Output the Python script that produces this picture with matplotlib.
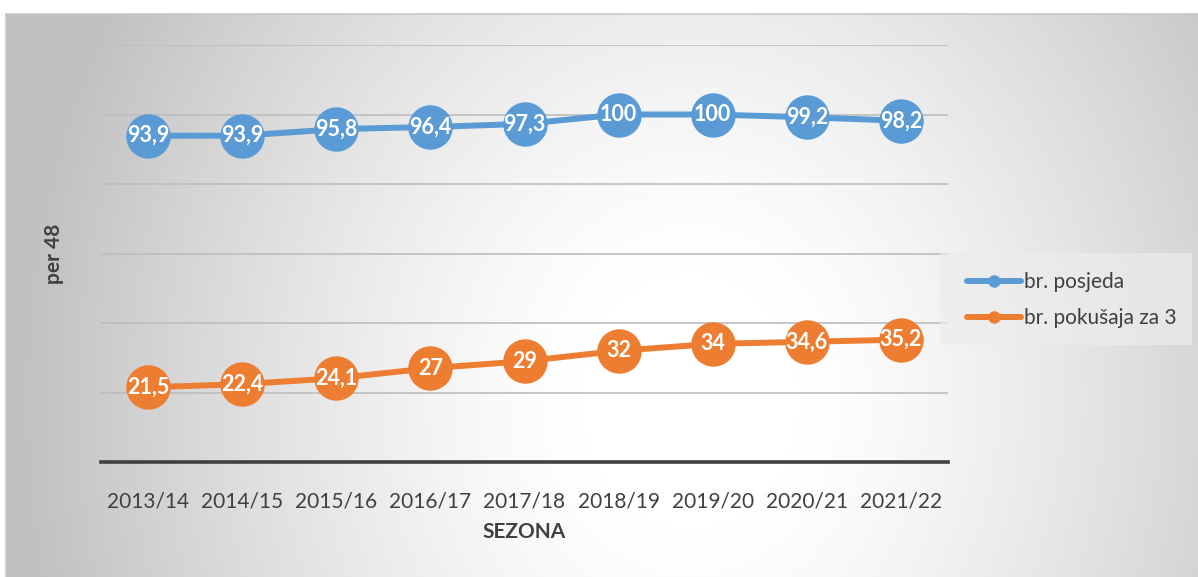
import numpy as np
import matplotlib
matplotlib.use("Agg")
import matplotlib.pyplot as plt
from matplotlib.lines import Line2D
from matplotlib.patches import Rectangle

plt.rcParams['font.family'] = ['Lato', 'DejaVu Sans']

seasons = ["2013/14", "2014/15", "2015/16", "2016/17", "2017/18",
           "2018/19", "2019/20", "2020/21", "2021/22"]
posjedi = [93.9, 93.9, 95.8, 96.4, 97.3, 100, 100, 99.2, 98.2]
pokusaji_3 = [21.5, 22.4, 24.1, 27, 29, 32, 34, 34.6, 35.2]
series_names = ["br. posjeda", "br. pokušaja za 3"]
colors = ["#5B9BD5", "#ED7D31"]

W, H = 1198, 577
fig = plt.figure(figsize=(W / 100, H / 100), dpi=100)

# radial gradient background of the chart area
bg = fig.add_axes([0, 0, 1, 1], zorder=-10)
yy, xx = np.mgrid[0:H, 0:W]
t = np.sqrt(((xx - 690) / 680.0) ** 2 + ((yy - 400) / 800.0) ** 2)
t = np.clip((t - 0.16) / 0.84, 0, 1)
shade = 1 - 0.25 * t ** 1.3
img = np.dstack([shade] * 3)
img[:14, :, :] = 1.0
img[:, :6, :] = 1.0
bg.imshow(img, extent=[0, W, H, 0], aspect='auto', interpolation='bilinear')
bg.plot([6, W], [14, 14], color="#c8c8c8", lw=1.2)
bg.plot([6, 6], [14, H], color="#c8c8c8", lw=1.2)
bg.set_xlim(0, W)
bg.set_ylim(H, 0)
bg.axis('off')

ax = fig.add_axes([101 / W, 1 - 462 / H, 847 / W, 417 / H])
ax.patch.set_alpha(0)
x = np.arange(len(seasons))

for vals, c in zip([posjedi, pokusaji_3], colors):
    ax.plot(x, vals, color=c, lw=4.3, marker='o', markersize=32,
            markeredgewidth=0, solid_capstyle='round', zorder=3)
    for xi, v in zip(x, vals):
        ax.text(xi, v, f"{v:g}".replace('.', ','), ha='center', va='center',
                color='white', fontsize=15.5, fontweight='bold', zorder=4)

ax.set_xlim(-0.5, len(seasons) - 0.5)
ax.set_ylim(0, 120)
ax.set_yticks(np.arange(20, 121, 20))
ax.yaxis.grid(True, color="#bdbdbd", lw=1.2)
ax.set_axisbelow(True)
ax.tick_params(axis='y', left=False, labelleft=False)
ax.set_xticks(x)
ax.set_xticklabels(seasons, fontsize=15, color="#404040")
ax.tick_params(axis='x', bottom=False, pad=18)
for s in ['top', 'right', 'left']:
    ax.spines[s].set_visible(False)
ax.spines['bottom'].set_color("#404040")
ax.spines['bottom'].set_linewidth(2.6)

fig.text(524 / W, 1 - 532 / H, "SEZONA", ha='center', va='center',
         fontsize=15, fontweight='bold', color="#404040")
fig.text(54 / W, 1 - 254 / H, "per 48", ha='center', va='center',
         rotation=90, fontsize=15, fontweight='bold', color="#404040")

handles = [Line2D([], [], color=c, lw=4.3, marker='o', markersize=8,
                  solid_capstyle='round') for c in colors]
fig.patches.append(Rectangle((940 / W, 1 - 345 / H), 252 / W, 92 / H,
                             transform=fig.transFigure, facecolor="#ececec",
                             edgecolor='none', alpha=0.7, zorder=1))
leg = fig.legend(handles, series_names, loc='center left',
                 bbox_to_anchor=(948 / W, 1 - 300 / H), frameon=False,
                 fontsize=15, labelcolor="#404040", handlelength=2.6,
                 handletextpad=0.15, labelspacing=0.75)

fig.savefig("out.png", dpi=100)
